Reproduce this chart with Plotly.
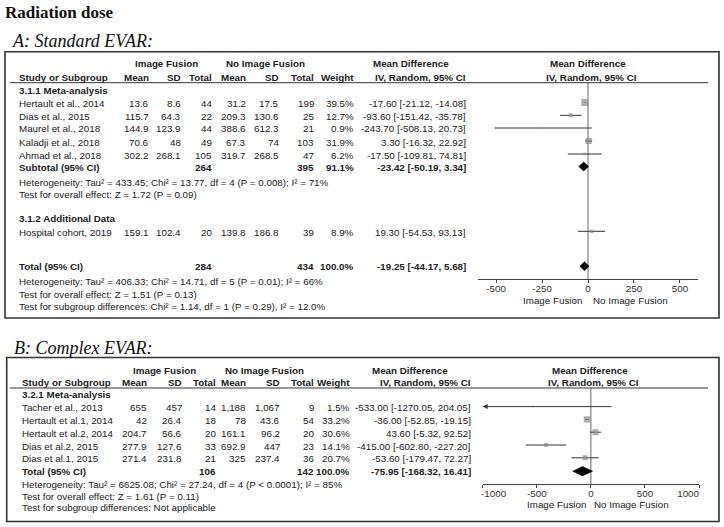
import plotly.graph_objects as go

# ---------------- DATA ----------------
A_STUDIES = ["Hertault et al., 2014", "Dias et al., 2015", "Maurel et al., 2018",
             "Kaladji et al., 2018", "Ahmad et al., 2018"]
A_IF_MEAN = [13.6, 115.7, 144.9, 70.6, 302.2]
A_IF_SD = [8.6, 64.3, 123.9, 48, 268.1]
A_IF_N = [44, 22, 44, 49, 105]
A_NO_MEAN = [31.2, 209.3, 388.6, 67.3, 319.7]
A_NO_SD = [17.5, 130.6, 612.3, 74, 268.5]
A_NO_N = [199, 25, 21, 103, 47]
A_WEIGHT = [39.5, 12.7, 0.9, 31.9, 6.2]
A_MD = [-17.60, -93.60, -243.70, 3.30, -17.50]
A_LO = [-21.12, -151.42, -508.13, -16.32, -109.81]
A_HI = [-14.08, -35.78, 20.73, 22.92, 74.81]
A_SUB = {"n1": 264, "n2": 395, "w": 91.1, "md": -23.42, "lo": -50.19, "hi": 3.34}

A2_STUDIES = ["Hospital cohort, 2019"]
A2_IF_MEAN = [159.1]
A2_IF_SD = [102.4]
A2_IF_N = [20]
A2_NO_MEAN = [139.8]
A2_NO_SD = [186.8]
A2_NO_N = [39]
A2_WEIGHT = [8.9]
A2_MD = [19.30]
A2_LO = [-54.53]
A2_HI = [93.13]
A_TOTAL = {"n1": 284, "n2": 434, "w": 100.0, "md": -19.25, "lo": -44.17, "hi": 5.68}

B_STUDIES = ["Tacher et al., 2013", "Hertault et al.1, 2014", "Hertault et al.2, 2014",
             "Dias et al.2, 2015", "Dias et al.1, 2015"]
B_IF_MEAN = [655, 42, 204.7, 277.9, 271.4]
B_IF_SD = [457, 26.4, 56.6, 127.6, 231.8]
B_IF_N = [14, 18, 20, 33, 21]
B_NO_MEAN = [1188, 78, 161.1, 692.9, 325]
B_NO_SD = [1067, 43.6, 96.2, 447, 237.4]
B_NO_N = [9, 54, 20, 23, 36]
B_WEIGHT = [1.5, 33.2, 30.6, 14.1, 20.7]
B_MD = [-533.00, -36.00, 43.60, -415.00, -53.60]
B_LO = [-1270.05, -52.85, -5.32, -602.80, -179.47]
B_HI = [204.05, -19.15, 92.52, -227.20, 72.27]
B_TOTAL = {"n1": 106, "n2": 142, "w": 100.0, "md": -75.95, "lo": -168.32, "hi": 16.41}

A_TICKS = [-500, -250, 0, 250, 500]
B_TICKS = [-1000, -500, 0, 500, 1000]

A_TEXT = {
    "sub1": "3.1.1 Meta-analysis",
    "het1": "Heterogeneity: Tau² = 433.45; Chi² = 13.77, df = 4 (P = 0.008); I² = 71%",
    "z1": "Test for overall effect: Z = 1.72 (P = 0.09)",
    "sub2": "3.1.2 Additional Data",
    "het": "Heterogeneity: Tau² = 406.33; Chi² = 14.71, df = 5 (P = 0.01); I² = 66%",
    "z": "Test for overall effect: Z = 1.51 (P = 0.13)",
    "sg": "Test for subgroup differences: Chi² = 1.14, df = 1 (P = 0.29), I² = 12.0%",
}
B_TEXT = {
    "sub1": "3.2.1 Meta-analysis",
    "het": "Heterogeneity: Tau² = 6625.08; Chi² = 27.24, df = 4 (P < 0.0001); I² = 85%",
    "z": "Test for overall effect: Z = 1.61 (P = 0.11)",
    "sg": "Test for subgroup differences: Not applicable",
}

# ---------------- LAYOUT / STYLE ----------------
W, H = 724, 527
FONT = "Liberation Sans, Arial, sans-serif"
SERIF = "Liberation Serif, Times New Roman, serif"
FS = 9.8
TXT = "#222222"
LINE = "#333333"
SQ = "#8c8c8c"
ZERO = "#8a8a8a"


def px(x):
    return x / W


def py(y):
    return 1 - y / H


ann = []
shapes = []


def text(x, y, s, anchor="left", bold=False, size=FS, family=FONT, color=TXT):
    if bold:
        s = "<b>" + s + "</b>"
    ann.append(dict(x=px(x), y=py(y), xref="paper", yref="paper", text=s,
                    showarrow=False, xanchor=anchor, yanchor="middle",
                    borderpad=0, font=dict(family=family, size=size, color=color)))


def num(v):
    return f"{v:,}"


fig = go.Figure()

# Titles
text(4, 12, "Radiation dose", bold=True, size=17, family=SERIF, color="#111")
text(11, 41.5, "<i>A: Standard EVAR:</i>", size=18, family=SERIF, color="#111")
text(12.5, 348, "<i>B: Complex EVAR:</i>", size=18, family=SERIF, color="#111")


def panel(cols, y_h1, y_h2, y_line, box, label_x, grp_centers, md_hdr_c, plot_hdr_c):
    shapes.append(dict(type="rect", xref="paper", yref="paper",
                       x0=px(box[0]), x1=px(box[2]), y0=py(box[1]), y1=py(box[3]),
                       line=dict(color=LINE, width=1.6)))
    shapes.append(dict(type="line", xref="paper", yref="paper",
                       x0=px(10), x1=px(708), y0=py(y_line), y1=py(y_line),
                       line=dict(color=LINE, width=1)))
    text(grp_centers[0], y_h1, "Image Fusion", "center", True)
    text(grp_centers[1], y_h1, "No Image Fusion", "center", True)
    text(md_hdr_c, y_h1, "Mean Difference", "center", True)
    text(plot_hdr_c, y_h1, "Mean Difference", "center", True)
    text(label_x, y_h2, "Study or Subgroup", "left", True)
    for c, h in zip(cols, ["Mean", "SD", "Total", "Mean", "SD", "Total", "Weight",
                           "IV, Random, 95% CI"]):
        text(c, y_h2, h, "right", True)
    text(plot_hdr_c + 3, y_h2, "IV, Random, 95% CI", "center", True)


def study_rows(cols, label_x, ys, names, m1, s1, n1, m2, s2, n2, w, md, lo, hi):
    for i, y in enumerate(ys):
        text(label_x, y, names[i])
        vals = [num(m1[i]), num(s1[i]), num(n1[i]), num(m2[i]), num(s2[i]), num(n2[i]),
                f"{w[i]:.1f}%", f"{md[i]:.2f} [{lo[i]:.2f}, {hi[i]:.2f}]"]
        for c, v in zip(cols, vals):
            text(c, y, v, "right")


def total_row(cols, label_x, y, label, d):
    text(label_x, y, label, bold=True)
    text(cols[2], y, num(d["n1"]), "right", True)
    text(cols[5], y, num(d["n2"]), "right", True)
    text(cols[6], y, f"{d['w']:.1f}%", "right", True)
    text(cols[7], y, f"{d['md']:.2f} [{d['lo']:.2f}, {d['hi']:.2f}]", "right", True)


def forest(xa, ya, ys, md, lo, hi, w, rng):
    for i, y in enumerate(ys):
        if lo[i] < rng[0]:
            ann.append(dict(x=rng[0], y=y, ax=hi[i], ay=y, xref=xa, yref=ya,
                            axref=xa, ayref=ya, showarrow=True, arrowhead=2,
                            arrowsize=1, arrowwidth=1, arrowcolor=LINE, text="",
                            standoff=0))
        else:
            fig.add_trace(go.Scatter(x=[lo[i], hi[i]], y=[y, y], mode="lines",
                                     line=dict(color=LINE, width=1), xaxis=xa, yaxis=ya,
                                     hoverinfo="skip", showlegend=False))
    fig.add_trace(go.Scatter(x=md, y=ys, mode="markers", xaxis=xa, yaxis=ya,
                             marker=dict(symbol="square", color=SQ,
                                         size=[max(1.5, 1.1 * wi ** 0.5) for wi in w],
                                         line=dict(width=0)),
                             showlegend=False, hoverinfo="skip"))


def diamond(xa, ya, y, d, h=4.5):
    fig.add_trace(go.Scatter(x=[d["lo"], d["md"], d["hi"], d["md"], d["lo"]],
                             y=[y, y - h, y, y + h, y], mode="lines", fill="toself",
                             fillcolor="black", line=dict(color="black", width=0.5),
                             xaxis=xa, yaxis=ya, showlegend=False, hoverinfo="skip"))


# ---------------- PANEL A ----------------
colsA = [150, 182, 213, 247, 280, 315, 355, 467]
LXA = 18
panel(colsA, 63.5, 77, 82.7, (5, 51.7, 719, 318), LXA, (166, 265), 411, 588)
yA = [103.5, 116.3, 129, 142, 155]
text(LXA, 90, A_TEXT["sub1"], bold=True)
study_rows(colsA, LXA, yA, A_STUDIES, A_IF_MEAN, A_IF_SD, A_IF_N, A_NO_MEAN, A_NO_SD,
           A_NO_N, A_WEIGHT, A_MD, A_LO, A_HI)
total_row(colsA, LXA, 167, "Subtotal (95% CI)", A_SUB)
text(LXA, 182, A_TEXT["het1"])
text(LXA, 194.3, A_TEXT["z1"])
text(LXA, 218.7, A_TEXT["sub2"], bold=True)
yA2 = [232.3]
study_rows(colsA, LXA, yA2, A2_STUDIES, A2_IF_MEAN, A2_IF_SD, A2_IF_N, A2_NO_MEAN,
           A2_NO_SD, A2_NO_N, A2_WEIGHT, A2_MD, A2_LO, A2_HI)
total_row(colsA, LXA, 266.7, "Total (95% CI)", A_TOTAL)
text(LXA, 281.7, A_TEXT["het"])
text(LXA, 294, A_TEXT["z"])
text(LXA, 306.5, A_TEXT["sg"])

rngA = [-600, 600]
forest("x", "y", [y - 1 for y in yA], A_MD, A_LO, A_HI, A_WEIGHT, rngA)
forest("x", "y", [y - 1 for y in yA2], A2_MD, A2_LO, A2_HI, A2_WEIGHT, rngA)
diamond("x", "y", 166.5, A_SUB)
diamond("x", "y", 266.3, A_TOTAL)
shapes.append(dict(type="line", xref="x", yref="y", x0=0, x1=0, y0=82.7, y1=279.3,
                   line=dict(color=ZERO, width=1.3), layer="below"))
text(552, 300, "Image Fusion", "center")
text(630, 300, "No Image Fusion", "center")

# ---------------- PANEL B ----------------
colsB = [148, 183.5, 216.5, 246.7, 280.7, 314.7, 350.5, 472]
LXB = 20.5
panel(colsB, 370.7, 382.3, 388, (6.7, 357.5, 719, 521.5), LXB, (164, 264), 410, 590)
yB = [407.6, 420.4, 433.2, 446, 458.8]
text(LXB, 394.8, B_TEXT["sub1"], bold=True)
study_rows(colsB, LXB, yB, B_STUDIES, B_IF_MEAN, B_IF_SD, B_IF_N, B_NO_MEAN, B_NO_SD,
           B_NO_N, B_WEIGHT, B_MD, B_LO, B_HI)
total_row(colsB, LXB, 471.6, "Total (95% CI)", B_TOTAL)
text(LXB, 484, B_TEXT["het"])
text(LXB, 496, B_TEXT["z"])
text(LXB, 507.8, B_TEXT["sg"])

rngB = [-1000, 1000]
forest("x2", "y2", [y - 1 for y in yB], B_MD, B_LO, B_HI, B_WEIGHT, rngB)
diamond("x2", "y2", 471.2, B_TOTAL, 4.7)
shapes.append(dict(type="line", xref="x2", yref="y2", x0=0, x1=0, y0=388, y1=484,
                   line=dict(color=ZERO, width=1.3), layer="below"))
text(556, 504.5, "Image Fusion", "center")
text(631, 504.5, "No Image Fusion", "center")

# ---------------- AXES ----------------
PAD = "\u00a0" * 8
b_ticktext = [str(t) for t in B_TICKS]
b_ticktext[0] = PAD + b_ticktext[0]
b_ticktext[-1] = b_ticktext[-1] + PAD

axis_common = dict(showgrid=False, zeroline=False, showline=True, linecolor="#444",
                   linewidth=1, ticks="outside", ticklen=3, tickcolor="#444",
                   tickwidth=1, tickfont=dict(family=FONT, size=FS, color="#333"),
                   ticklabelstandoff=-3,
                   fixedrange=True, automargin=False)

fig.update_layout(
    width=W, height=H, autosize=False,
    margin=dict(l=0, r=0, t=0, b=0, pad=0, autoexpand=False),
    paper_bgcolor="white", plot_bgcolor="rgba(0,0,0,0)",
    showlegend=False,
    xaxis=dict(domain=[px(477.7), px(698.3)], range=rngA, anchor="y",
               tickvals=A_TICKS, ticktext=[str(t) for t in A_TICKS], **axis_common),
    yaxis=dict(domain=[py(279.3), py(82.7)], range=[279.3, 82.7], visible=False,
               fixedrange=True, automargin=False),
    xaxis2=dict(domain=[px(482.7), px(699)], range=rngB, anchor="y2",
                tickvals=B_TICKS, ticktext=b_ticktext, **axis_common),
    yaxis2=dict(domain=[py(484), py(388)], range=[484, 388], visible=False,
                fixedrange=True, automargin=False),
    annotations=ann,
    shapes=shapes,
)

fig.write_html("out.html", config={"displayModeBar": False, "staticPlot": True},
               post_script="document.body.style.margin='0';"
                           "document.body.style.padding='0';"
                           "document.documentElement.style.overflow='hidden';")
